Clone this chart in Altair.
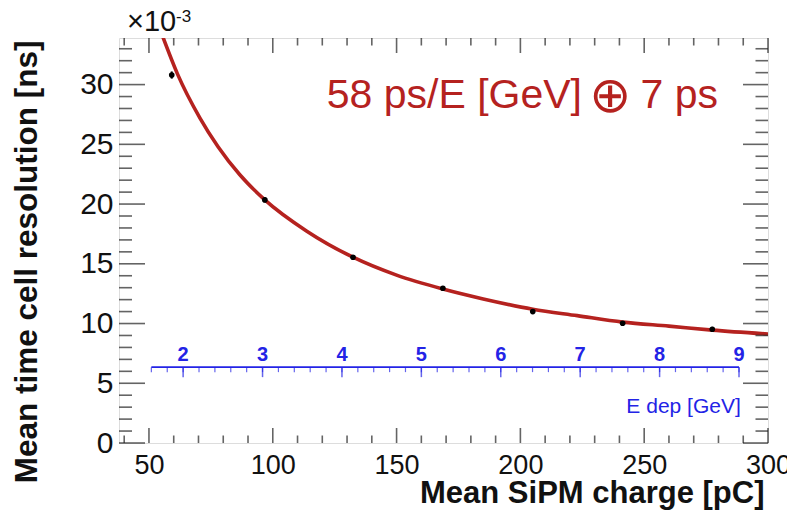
import altair as alt
import pandas as pd
import numpy as np

# ---- data (y in units of 1e-3 ns) ----
charge = [59.2, 96.8, 132.4, 168.7, 205.0, 241.3, 277.5]
resol = [30.8, 20.35, 15.55, 12.95, 11.0, 10.02, 9.52]
resol_err = [0.3, 0.2, 0.18, 0.18, 0.18, 0.18, 0.2]

fit_q = [55.6, 61.5, 70.6, 77.9, 86.7, 96.8, 113.6, 132.4, 150.0, 168.7, 185.0, 205.0, 223.0,
         241.3, 260.0, 277.5, 300.0]
fit_y = [34.0, 30.9, 27.2, 24.8, 22.45, 20.35, 17.75, 15.55, 14.05, 12.89, 12.06, 11.2, 10.66,
         10.12, 9.78, 9.45, 9.12]

x_major = [50, 100, 150, 200, 250, 300]
x_minor = [40, 60, 70, 80, 90, 110, 120, 130, 140, 160, 170, 180, 190, 210, 220, 230, 240,
           260, 270, 280, 290]
y_major = [0, 5, 10, 15, 20, 25, 30]
y_minor = [v for v in range(1, 34) if v % 5 != 0]

# secondary energy axis (E dep, GeV) mapped onto charge
e_major = [2, 3, 4, 5, 6, 7, 8, 9]
e_minor = [round(1.6 + 0.2 * i, 1) for i in range(38)]
q_at_2gev = 63.8
pc_per_gev = 32.07
e_axis_y = 6.35

X_DOM = [37.9, 300]
Y_DOM = [0, 33.9]
W, H = 649, 405
FONT = "Liberation Sans"
RED = "#b5221f"
BLUE = "#2323e6"

xs = alt.Scale(domain=X_DOM, nice=False, zero=False)
ys = alt.Scale(domain=Y_DOM, nice=False, zero=False)

pts = pd.DataFrame({"q": charge, "y": resol, "e": resol_err})
pts["lo"] = pts["y"] - pts["e"]
pts["hi"] = pts["y"] + pts["e"]
fit = pd.DataFrame({"q": fit_q, "y": fit_y})

def e_to_q(e):
    return q_at_2gev + (np.array(e, dtype=float) - 2) * pc_per_gev

emaj = pd.DataFrame({"E": e_major, "q": e_to_q(e_major), "lab": [str(v) for v in e_major]})
emin = pd.DataFrame({"E": e_minor, "q": e_to_q(e_minor)})
eline = pd.DataFrame({"q": [e_to_q([e_minor[0]])[0]], "q2": [e_to_q([9])[0]]})

base = alt.Chart(fit).mark_line(color=RED, strokeWidth=3.6, interpolate="monotone", clip=True).encode(
    x=alt.X("q:Q", scale=xs, axis=alt.Axis(
        values=x_major, ticks=False, domain=False, grid=False, labelFont=FONT, labelFontSize=27,
        labelColor="#111", labelPadding=9, labelFlush=False,
        title="Mean SiPM charge [pC]", titleFont=FONT, titleFontSize=31, titleFontWeight="bold",
        titleColor="#111", titleAnchor="end", titleAlign="right", titleBaseline="alphabetic",
        titleX=645, titleY=59)),
    y=alt.Y("y:Q", scale=ys, axis=alt.Axis(
        values=y_major, ticks=False, domain=False, grid=False, labelFont=FONT, labelFontSize=30,
        labelColor="#111", labelPadding=6, labelFlush=False,
        title="Mean time cell resolution [ns]", titleFont=FONT, titleFontSize=31.5,
        titleFontWeight="bold", titleColor="#111", titleAngle=270, titleAlign="right",
        titleBaseline="alphabetic", titleX=-83, titleY=2)),
)

tick_col = "#222"
xmaj_df = pd.DataFrame({"q": x_major})
xmin_df = pd.DataFrame({"q": x_minor})
ymaj_df = pd.DataFrame({"y": y_major})
ymin_df = pd.DataFrame({"y": y_minor})

def xt(df, size, bottom=True):
    return alt.Chart(df).mark_tick(orient="vertical", size=size, thickness=1.6, color=tick_col,
                                   yOffset=(-size / 2 if bottom else size / 2)).encode(
        x=alt.X("q:Q", scale=xs), y=alt.value(H if bottom else 0))

def yt(df, size, left=True):
    return alt.Chart(df).mark_tick(orient="horizontal", size=size, thickness=1.6, color=tick_col,
                                   xOffset=(size / 2 if left else -size / 2)).encode(
        y=alt.Y("y:Q", scale=ys), x=alt.value(0 if left else W))

ticks = [xt(xmaj_df, 15), xt(xmin_df, 7.5), xt(xmaj_df, 15, False), xt(xmin_df, 7.5, False),
         yt(ymaj_df, 26), yt(ymin_df, 13), yt(ymaj_df, 25, False), yt(ymin_df, 12.5, False)]

err = alt.Chart(pts).mark_rule(color="black", strokeWidth=2).encode(
    x=alt.X("q:Q", scale=xs), y=alt.Y("lo:Q", scale=ys), y2="hi:Q")
dots = alt.Chart(pts).mark_point(shape="circle", filled=True, size=32, color="black", opacity=1).encode(
    x=alt.X("q:Q", scale=xs), y=alt.Y("y:Q", scale=ys))

# blue energy axis
eax = alt.Chart(eline).mark_rule(color=BLUE, strokeWidth=1.6).encode(
    x=alt.X("q:Q", scale=xs), x2="q2:Q", y=alt.datum(e_axis_y, scale=ys))
emaj_t = alt.Chart(emaj).mark_tick(orient="vertical", size=10, thickness=1.5, color=BLUE, yOffset=5).encode(
    x=alt.X("q:Q", scale=xs), y=alt.datum(e_axis_y, scale=ys))
emin_t = alt.Chart(emin).mark_tick(orient="vertical", size=5, thickness=1.2, color=BLUE, yOffset=2.5).encode(
    x=alt.X("q:Q", scale=xs), y=alt.datum(e_axis_y, scale=ys))
elab = alt.Chart(emaj).mark_text(font=FONT, fontSize=20, fontWeight="bold", color=BLUE,
                                 baseline="alphabetic", dy=-6).encode(
    x=alt.X("q:Q", scale=xs), y=alt.datum(e_axis_y, scale=ys), text="lab:N")

etxt = pd.DataFrame({"q": [289.0], "y": [2.54], "t": ["E dep [GeV]"]})
etitle = alt.Chart(etxt).mark_text(font=FONT, fontSize=21, color=BLUE, align="right",
                                   baseline="alphabetic").encode(
    x=alt.X("q:Q", scale=xs), y=alt.Y("y:Q", scale=ys), text="t:N")

# red fit label: text pieces, the circled plus drawn larger as in the reference
fit_lab = pd.DataFrame({"q": [121.8, 227.8, 248.5], "y": [28.06, 28.95, 28.06],
                        "t": ["58 ps/E [GeV]", "\u2295", "7 ps"]})
red1 = alt.Chart(fit_lab.iloc[[0, 2]]).mark_text(font=FONT, fontSize=41, color=RED, align="left",
                                               baseline="alphabetic").encode(
    x=alt.X("q:Q", scale=xs), y=alt.Y("y:Q", scale=ys), text="t:N")
red2 = alt.Chart(fit_lab.iloc[[1]]).mark_text(font="DejaVu Sans", fontSize=50, color=RED, align="left",
                                             baseline="middle").encode(
    x=alt.X("q:Q", scale=xs), y=alt.Y("y:Q", scale=ys), text="t:N")

mult = pd.DataFrame({"a": ["\u00d710"], "b": ["-3"]})
m1 = alt.Chart(mult).mark_text(font=FONT, fontSize=29, color="#111", align="left",
                               baseline="alphabetic").encode(
    x=alt.value(8), y=alt.value(-7), text="a:N")
m2 = alt.Chart(mult).mark_text(font=FONT, fontSize=17, color="#111", align="left",
                               baseline="alphabetic").encode(
    x=alt.value(57), y=alt.value(-16), text="b:N")

chart = alt.layer(base, *ticks, err, dots, eax, emin_t, emaj_t, elab, etitle, red1, red2, m1, m2).properties(
    width=W, height=H,
    autosize=alt.AutoSizeParams(type="none"),
    padding={"left": 111, "top": 30, "right": 19, "bottom": 70},
).configure_view(stroke="#222", strokeWidth=1.8).configure(background="white")

chart.save("out.html", embed_options={"renderer": "svg", "actions": False})
